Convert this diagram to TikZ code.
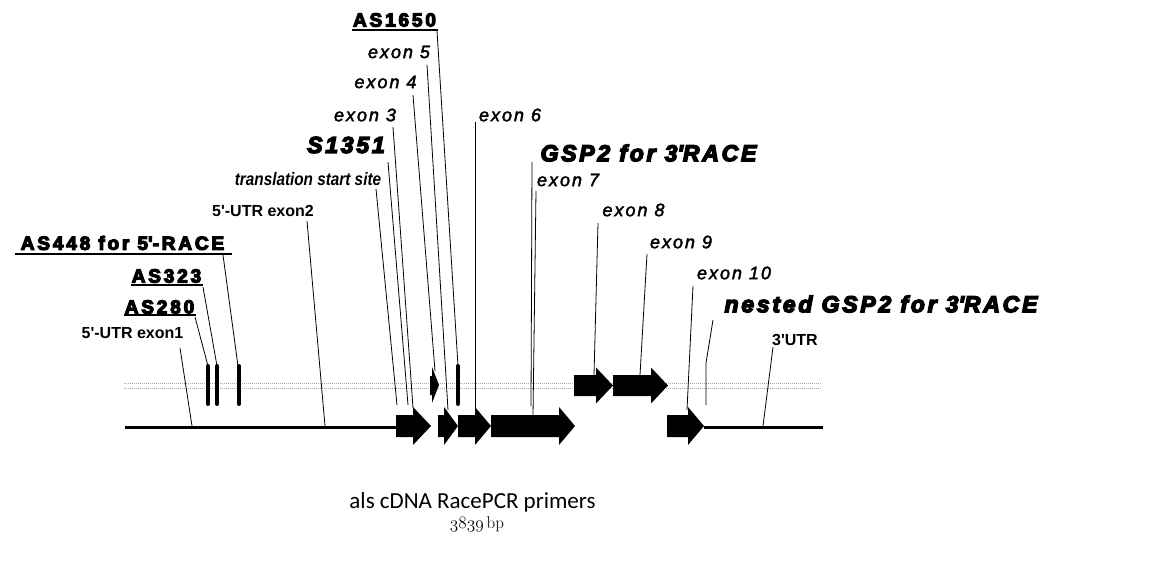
\documentclass[tikz,border=0pt]{standalone}
\usepackage{fontspec}
\setmainfont{Liberation Sans}
\newfontfamily\heavyfont{Liberation Sans Bold}[LetterSpace=15]
\newfontfamily\heavyitfont{Liberation Sans Bold Italic}[LetterSpace=12]
\newfontfamily\exonfont{Liberation Sans Italic}[LetterSpace=11]
\newfontfamily\narrowfont{Liberation Sans Bold Italic}[FakeStretch=0.85]
\newfontfamily\utrfont{Liberation Sans Bold}
\newfontfamily\capfont{Carlito}
\newfontfamily\lmfont{Latin Modern Roman}
\newcommand\q{\textquotesingle}
\newcommand\hv[2]{\special{pdf:literal direct q 2 Tr #1 w 0 g 0 G}#2\special{pdf:literal direct Q}}
\newcommand\blkarrow[6]{\fill (#1,#4-#5) -- (#2,#4-#5) -- (#2,#4-#6) -- (#3,#4) -- (#2,#4+#6) -- (#2,#4+#5) -- (#1,#4+#5) -- cycle;}
\begin{document}
\begin{tikzpicture}[x=1pt,y=-1pt,
  lab/.style={inner sep=0pt, anchor=center},
  aslab/.style={lab, font=\fontsize{19}{21}\selectfont\heavyfont},
  gsplab/.style={lab, font=\fontsize{23}{26}\selectfont\heavyitfont},
  exlab/.style={lab, font=\fontsize{18}{20}\selectfont\exonfont},
  utrlab/.style={lab, font=\fontsize{16}{18}\selectfont\utrfont},
  leader/.style={line width=0.8pt},
  ul/.style={line width=1.4pt},
  bar/.style={line width=4pt, line cap=round},
  dotl/.style={gray!70, line width=0.8pt, dash pattern=on 1pt off 1pt},
  mainline/.style={line width=3pt}]
\useasboundingbox[fill=white] (0,0) rectangle (1170,580);

% dotted double line
\draw[dotl] (124,383) -- (822,383);
\draw[dotl] (124,388) -- (822,388);

% main line
\draw[mainline] (125,427) -- (397,427);
\draw[mainline] (704,427) -- (823,427);

% bars
\draw[bar] (208,366) -- (208,404);
\draw[bar] (217,366) -- (217,404);
\draw[bar] (239,366) -- (239,404);
\draw[bar] (458,366) -- (458,404);

% arrows main row
\blkarrow{396}{413}{431}{426}{11}{19}
\blkarrow{438}{444}{458}{426}{11}{19}
\blkarrow{458}{475}{491}{426}{11}{19}
\blkarrow{491}{559}{575}{426}{11}{19}
\blkarrow{667}{688}{704}{426}{11}{19}
% arrows upper row
\blkarrow{574}{596}{613}{385.5}{10.5}{18}
\blkarrow{613}{651}{668}{385.5}{10.5}{18}
\fill (430,376) -- (432,376) -- (432,367) -- (439,385) -- (432,403) -- (432,395) -- (430,395) -- cycle;

% labels
\node[aslab] (as448) at (122.5,243) {\hv{1.2}{AS448 for 5\q-RACE}};
\node[aslab] (as323) at (166.5,276) {\hv{1.2}{AS323}};
\node[aslab] (as280) at (159.5,307) {\hv{1.2}{AS280}};
\node[aslab] (as1650) at (394.5,20) {\hv{1.2}{AS1650}};
\node[utrlab] (utr1) at (132.5,333) {5\q-UTR exon1};
\node[utrlab] (utr2) at (263,211) {5\q-UTR exon2};
\node[utrlab] (utr3) at (795,340) {3\q UTR};
\node[lab, font=\fontsize{18}{20}\selectfont\narrowfont] (tss) at (308,179) {translation start site};
\node[gsplab] (s1351) at (346,145) {\hv{1.4}{S1351}};
\node[exlab] (ex3) at (365,115) {\hv{0.4}{exon 3}};
\node[exlab] (ex4) at (385.5,82) {\hv{0.4}{exon 4}};
\node[exlab] (ex5) at (399,52) {\hv{0.4}{exon 5}};
\node[exlab] (ex6) at (510,115) {\hv{0.4}{exon 6}};
\node[gsplab] (gsp) at (648.5,153) {\hv{1.4}{GSP2 for 3\q RACE}};
\node[exlab] (ex7) at (568,180) {\hv{0.4}{exon 7}};
\node[exlab] (ex8) at (633.5,210) {\hv{0.4}{exon 8}};
\node[exlab] (ex9) at (681,242) {\hv{0.4}{exon 9}};
\node[exlab] (ex10) at (734,273) {\hv{0.4}{exon 10}};
\node[gsplab] (ngsp) at (881,304) {\hv{1.4}{nested GSP2 for 3\q RACE}};
\node[lab, font=\fontsize{23}{26}\selectfont\capfont] (cap) at (472.5,502) {als cDNA RacePCR primers};
\node[lab, font=\fontsize{17}{19}\selectfont] (bp) at (477,524) {{\usefont{OML}{cmm}{m}{it}3839}\,{\lmfont bp}};

% underlines
\draw[ul] (15,254) -- (232,254);
\draw[ul] (131,285) -- (203,285);
\draw[ul] (124,315) -- (196,315);
\draw[ul] (352,30) -- (438,30);

% leader coordinates
\coordinate (as448s) at (223,255); \coordinate (as448e) at (238,366);
\coordinate (as323s) at (203,287); \coordinate (as323e) at (217,366);
\coordinate (as280s) at (195,317); \coordinate (as280e) at (208,366);
\coordinate (utr1s) at (180,348); \coordinate (utr1e) at (192,426);
\coordinate (utr2s) at (307,221); \coordinate (utr2e) at (325,426);
\coordinate (tsss) at (376,189); \coordinate (tsse) at (397,405);
\coordinate (s1351s) at (388,162); \coordinate (s1351e) at (408,405);
\coordinate (ex3s) at (393,127); \coordinate (ex3e) at (413,408);
\coordinate (ex4s) at (413,95); \coordinate (ex4e) at (435,371);
\coordinate (ex5s) at (427,65); \coordinate (ex5e) at (448,410);
\coordinate (as1650s) at (437,31); \coordinate (as1650e) at (458,366);
\coordinate (ex6s) at (475,122); \coordinate (ex6e) at (475,408);
\coordinate (gsps) at (532,162); \coordinate (gspe) at (531,406);
\coordinate (ex7s) at (536,191); \coordinate (ex7e) at (533,416);
\coordinate (ex8s) at (598,223); \coordinate (ex8e) at (594,375);
\coordinate (ex9s) at (647,254); \coordinate (ex9e) at (640,375);
\coordinate (ex10s) at (693,286); \coordinate (ex10e) at (687,410);
\coordinate (ngsps) at (713,320); \coordinate (ngspm) at (706,363); \coordinate (ngspe) at (706,405);
\coordinate (utr3s) at (773,347); \coordinate (utr3e) at (763,426);

\draw[leader] (as448s) -- (as448e);
\draw[leader] (as323s) -- (as323e);
\draw[leader] (as280s) -- (as280e);
\draw[leader] (utr1s) -- (utr1e);
\draw[leader] (utr2s) -- (utr2e);
\draw[leader] (tsss) -- (tsse);
\draw[leader] (s1351s) -- (s1351e);
\draw[leader] (ex3s) -- (ex3e);
\draw[leader] (ex4s) -- (ex4e);
\draw[leader] (ex5s) -- (ex5e);
\draw[leader] (as1650s) -- (as1650e);
\draw[leader] (ex6s) -- (ex6e);
\draw[leader] (gsps) -- (gspe);
\draw[leader] (ex7s) -- (ex7e);
\draw[leader] (ex8s) -- (ex8e);
\draw[leader] (ex9s) -- (ex9e);
\draw[leader] (ex10s) -- (ex10e);
\draw[leader] (ngsps) -- (ngspm) -- (ngspe);
\draw[leader] (utr3s) -- (utr3e);
\end{tikzpicture}
\end{document}
